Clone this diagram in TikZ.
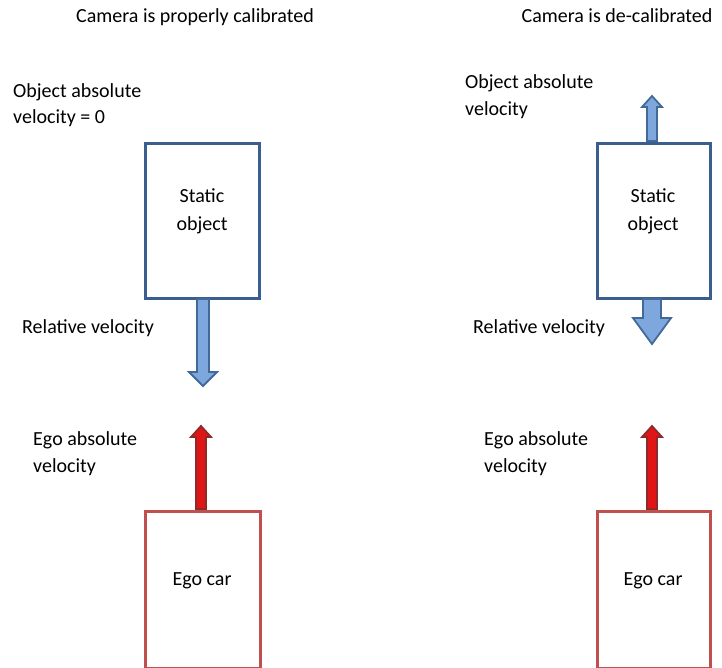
\documentclass[tikz,border=0pt]{standalone}
\usepackage{fontspec}
\setmainfont{Carlito}
\definecolor{boxblue}{HTML}{3A5F8E}
\definecolor{arrblue}{HTML}{7EA7DD}
\definecolor{arrblueedge}{HTML}{41699A}
\definecolor{boxred}{HTML}{C0504D}
\definecolor{arrred}{HTML}{E01515}
\definecolor{arrrededge}{HTML}{8E2A2A}
\begin{document}
\begin{tikzpicture}[x=1pt,y=-1pt,
  every node/.style={font=\fontsize{20}{27}\selectfont, inner sep=0pt},
  lbl/.style={anchor=base west},
  ctr/.style={anchor=base},
  staticbox/.style={draw=boxblue, line width=3pt, fill=white},
  egobox/.style={draw=boxred, line width=3pt, fill=white},
  bluearrow/.style={fill=arrblue, draw=arrblueedge, line width=1.8pt, line join=miter},
  redarrow/.style={fill=arrred, draw=arrrededge, line width=1.8pt, line join=miter}]
\useasboundingbox (0,0) rectangle (722,667);

% titles
\node[ctr] (t1) at (195,22) {Camera is properly calibrated};
\node[ctr] (t2) at (617,22) {Camera is de-calibrated};

% boxes
\draw[staticbox] (145,143) rectangle (259,298);
\node[ctr] (s1a) at (202,202) {Static};
\node[ctr] (s1b) at (202,230) {object};
\draw[staticbox] (597,143) rectangle (710,298);
\node[ctr] (s2a) at (653,202) {Static};
\node[ctr] (s2b) at (653,230) {object};

\draw[egobox] (145,511) rectangle (260,668);
\node[ctr] (e1) at (202,585) {Ego car};
\draw[egobox] (597,511) rectangle (710,668);
\node[ctr] (e2) at (653,585) {Ego car};

% left blue arrow (down)
\draw[bluearrow] (197,299) -- (209,299) -- (209,372) -- (217,372) -- (203,386) -- (189,372) -- (197,372) -- cycle;
% right blue arrow up
\draw[bluearrow] (647,141) -- (657,141) -- (657,107) -- (662,107) -- (652,96) -- (642,107) -- (647,107) -- cycle;
% right blue arrow down
\draw[bluearrow] (643,299) -- (661,299) -- (661,318) -- (671,318) -- (652,344) -- (633,318) -- (643,318) -- cycle;

% red arrows
\draw[redarrow] (196,509) -- (206,509) -- (206,437) -- (211,437) -- (201,426) -- (191,437) -- (196,437) -- cycle;
\draw[redarrow] (647,509) -- (657,509) -- (657,437) -- (662,437) -- (652,426) -- (642,437) -- (647,437) -- cycle;

% labels
\node[lbl] (l1a) at (13,97) {Object absolute};
\node[lbl] (l1b) at (13,123) {velocity = 0};
\node[lbl] (l2a) at (465,88) {Object absolute};
\node[lbl] (l2b) at (465,115) {velocity};
\node[lbl] (l3) at (22,333) {Relative velocity};
\node[lbl] (l4) at (473,333) {Relative velocity};
\node[lbl] (l5a) at (33,445) {Ego absolute};
\node[lbl] (l5b) at (33,472) {velocity};
\node[lbl] (l6a) at (484,445) {Ego absolute};
\node[lbl] (l6b) at (484,472) {velocity};
\end{tikzpicture}
\end{document}
